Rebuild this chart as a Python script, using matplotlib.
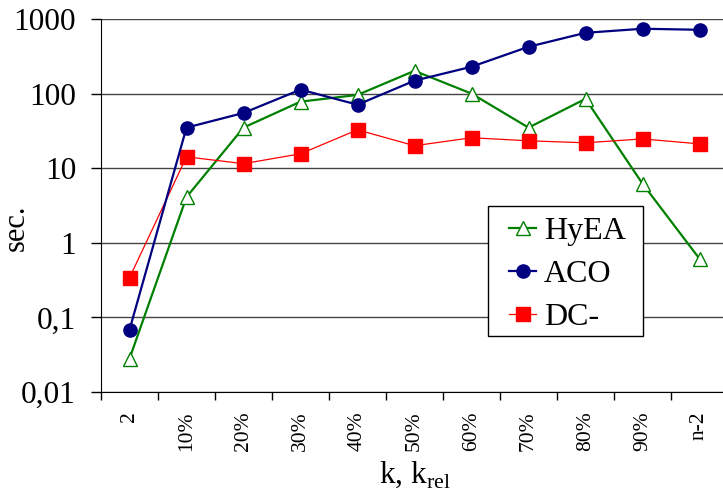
import numpy as np
import matplotlib
matplotlib.use('Agg')
import matplotlib.pyplot as plt
from matplotlib.patches import Rectangle
from matplotlib.ticker import FixedLocator, NullFormatter

plt.rcParams['font.family'] = ['Liberation Serif', 'DejaVu Serif']
plt.rcParams['mathtext.fontset'] = 'custom'
plt.rcParams['mathtext.rm'] = 'Liberation Serif'

# 数据
categories = ['2', '10%', '20%', '30%', '40%', '50%', '60%', '70%', '80%', '90%', 'n-2']
hyea = [0.028, 4.1, 35, 78, 96, 202, 100, 35, 85, 6.2, 0.61]
aco = [0.068, 35, 55, 113, 71, 149, 229, 424, 653, 740, 717]
dc = [0.34, 14.2, 11.5, 15.6, 32.7, 20, 25.6, 23.3, 21.9, 24.7, 21.2]
ytick_vals = [0.01, 0.1, 1, 10, 100, 1000]
ytick_labels = ['0,01', '0,1', '1', '10', '100', '1000']

W, H = 723, 498
fig = plt.figure(figsize=(W / 100, H / 100), dpi=100)
ax = fig.add_axes([101 / W, 106 / H, 627 / W, 373 / H])

x = np.arange(len(categories))
ax.plot(x, hyea, color='#008000', lw=1.6, marker='^', ms=10,
        mfc='white', mec='#008000', mew=1.0, label='HyEA', zorder=3)
ax.plot(x, aco, color='#000080', lw=1.6, marker='o', ms=9.5,
        mfc='#000080', mec='#000080', label='ACO', zorder=4)
ax.plot(x, dc, color='#FF0000', lw=0.9, marker='s', ms=9.5,
        mfc='#FF0000', mec='#FF0000', label='DC-', zorder=3)

ax.set_yscale('log')
ax.set_ylim(0.01, 1000)
ax.set_xlim(-0.5, len(categories) - 0.5)
ax.yaxis.set_major_locator(FixedLocator(ytick_vals))
ax.set_yticklabels(ytick_labels)
ax.yaxis.set_minor_locator(FixedLocator([]))
ax.yaxis.grid(True, color='#444444', lw=1.0)
ax.set_axisbelow(True)
ax.tick_params(axis='y', which='major', length=7, width=1, labelsize=22.5, pad=11)

ax.set_xticks(x)
ax.set_xticklabels(categories, rotation=90, fontsize=15.5)
ax.set_xticks(np.arange(-0.5, len(categories), 1), minor=True)
ax.xaxis.set_minor_formatter(NullFormatter())
ax.tick_params(axis='x', which='major', length=0, pad=14)
ax.tick_params(axis='x', which='minor', length=6, width=1)

for s in ['top', 'right']:
    ax.spines[s].set_visible(False)

ax.set_ylabel('sec.', fontsize=22)
ax.yaxis.set_label_coords(-0.112, 0.44)
ax.set_xlabel(r'k, k$_{\mathrm{rel}}$', fontsize=22.5, labelpad=6)

# 图例框 (手动画, 为了贴合原图的边距)
box = Rectangle((488 / W, 1 - 336 / H), 155 / W, 130 / H, transform=fig.transFigure,
                facecolor='white', edgecolor='black', lw=1.0, zorder=4.5)
ax.add_patch(box)
leg = ax.legend(loc='upper left', bbox_to_anchor=(509 / W, 1 - 217 / H),
                bbox_transform=fig.transFigure,
                fontsize=23, frameon=False,
                handlelength=0.85, handletextpad=0.25, labelspacing=0.42,
                borderpad=0, borderaxespad=0)
leg.set_zorder(6)

fig.savefig('out.png', dpi=100)
